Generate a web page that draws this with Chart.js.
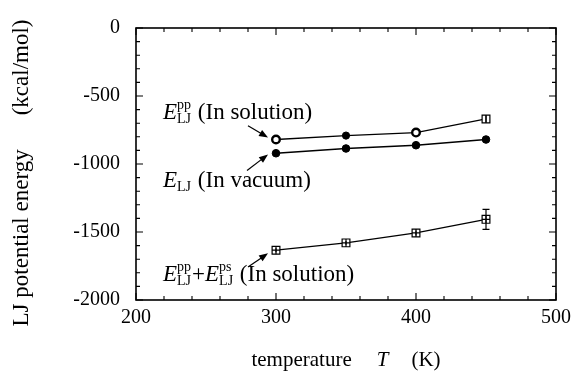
<!DOCTYPE html>
<html>
<head>
<meta charset="utf-8">
<script src="https://cdn.jsdelivr.net/npm/chart.js@4.4.1/dist/chart.umd.min.js"></script>
<style>
  html,body{margin:0;padding:0;background:#fff;}
  #wrap{width:577px;height:371px;}
</style>
</head>
<body>
<div id="wrap"><canvas id="c" width="577" height="371"></canvas></div>
<script>
// ---------- data ----------
const temperatures = [300, 350, 400, 450];
const solutionPP   = [-820, -791, -769, -669];
const solutionPPErr = [0, 0, 0, 25];
const vacuumLJ     = [-921, -886, -862, -820];
const solutionSum  = [-1634, -1580, -1507, -1407];
const solutionSumErr = [14, 14, 18, 73];
const xTicks = [200, 300, 400, 500];
const yTicks = [-2000, -1500, -1000, -500, 0];
const xTitle = ['temperature', 'T', '(K)'];
const yTitle = ['LJ potential energy', '(kcal/mol)'];
// annotation anchors in data units: label [x,y], arrow from [x,y] to [x,y]
const annLabels = [
  {parts:[{t:'E',it:true},{sup:'pp',sub:'LJ'},{t:' (In solution)'}], at:[219.3,-623], from:[280,-718], to:[294.3,-806]},
  {parts:[{t:'E',it:true},{sub:'LJ'},{t:' (In vacuum)'}], at:[219.3,-1121], from:[279.3,-1048], to:[294.3,-930]},
  {parts:[{t:'E',it:true},{sup:'pp',sub:'LJ'},{t:'+'},{t:'E',it:true},{sup:'ps',sub:'LJ'},{t:' (In solution)'}], at:[219.3,-1817], from:[280,-1758], to:[294.3,-1656]}
];

const FONT = "'Liberation Serif', 'Times New Roman', serif";
const pts = (ys) => temperatures.map((x, i) => ({x, y: ys[i]}));

function fontStr(size, it){ return (it?'italic ':'') + size + 'px ' + FONT; }
function measureRich(ctx, parts, size){
  let w = 0;
  for (const p of parts){
    if (p.gap){ w += p.gap; continue; }
    if (p.t !== undefined){ ctx.font = fontStr(size, p.it); w += ctx.measureText(p.t).width; continue; }
    ctx.font = fontStr(Math.round(size*0.6), false);
    w += Math.max(p.sup?ctx.measureText(p.sup).width:0, p.sub?ctx.measureText(p.sub).width:0) + 1;
  }
  return w;
}
function drawRich(ctx, parts, x, y, size){
  ctx.textBaseline = 'middle';
  ctx.textAlign = 'left';
  for (const p of parts){
    if (p.gap){ x += p.gap; continue; }
    if (p.t !== undefined){ ctx.font = fontStr(size, p.it); ctx.fillText(p.t, x, y); x += ctx.measureText(p.t).width; continue; }
    const s = Math.round(size*0.6);
    ctx.font = fontStr(s, false);
    let w = 0;
    if (p.sup){ ctx.fillText(p.sup, x, y - size*0.32); w = Math.max(w, ctx.measureText(p.sup).width); }
    if (p.sub){ ctx.fillText(p.sub, x, y + size*0.28); w = Math.max(w, ctx.measureText(p.sub).width); }
    x += w + 1;
  }
}

const framePlugin = {
  id: 'frame',
  afterDatasetsDraw(chart){
    const ctx = chart.ctx, a = chart.chartArea;
    const xs = chart.scales.x, ys = chart.scales.y;
    ctx.save();
    ctx.strokeStyle = '#000';
    ctx.fillStyle = '#000';
    // error bars
    ctx.lineWidth = 1.2;
    const drawErr = (vals, errs, half) => {
      vals.forEach((v, i) => {
        const px = xs.getPixelForValue(temperatures[i]);
        const top = ys.getPixelForValue(v + errs[i]);
        const bot = ys.getPixelForValue(v - errs[i]);
        if (errs[i] <= 0) return;
        ctx.beginPath();
        ctx.moveTo(px, top); ctx.lineTo(px, bot);
        if (bot - top > 2*half + 2){
          ctx.moveTo(px-3.5, top); ctx.lineTo(px+3.5, top);
          ctx.moveTo(px-3.5, bot); ctx.lineTo(px+3.5, bot);
        }
        ctx.stroke();
      });
    };
    drawErr(solutionPP, solutionPPErr, 4);
    drawErr(solutionSum, solutionSumErr, 4);
    // crosses in squares
    solutionSum.forEach((v, i) => {
      const px = xs.getPixelForValue(temperatures[i]);
      const py = ys.getPixelForValue(v);
      ctx.beginPath();
      ctx.moveTo(px-4, py); ctx.lineTo(px+4, py);
      ctx.moveTo(px, py-4); ctx.lineTo(px, py+4);
      ctx.stroke();
    });
    {
      const px = xs.getPixelForValue(temperatures[3]);
      const py = ys.getPixelForValue(solutionPP[3]);
      ctx.beginPath();
      ctx.moveTo(px, py-4); ctx.lineTo(px, py+4);
      ctx.stroke();
    }
    // frame
    ctx.lineWidth = 1.6;
    ctx.strokeRect(a.left, a.top, a.right - a.left, a.bottom - a.top);
    ctx.lineWidth = 1.1;
    ctx.beginPath();
    for (let v = xs.min; v <= xs.max + 1e-6; v += 20){
      const px = xs.getPixelForValue(v);
      const L = (Math.round(v) % 100 === 0) ? 7 : 4;
      ctx.moveTo(px, a.bottom); ctx.lineTo(px, a.bottom - L);
      ctx.moveTo(px, a.top); ctx.lineTo(px, a.top + L);
    }
    for (let v = ys.min; v <= ys.max + 1e-6; v += 100){
      const py = ys.getPixelForValue(v);
      const L = (Math.round(v) % 500 === 0) ? 7 : 4;
      ctx.moveTo(a.left, py); ctx.lineTo(a.left + L, py);
      ctx.moveTo(a.right, py); ctx.lineTo(a.right - L, py);
    }
    ctx.stroke();
    // annotations
    for (const an of annLabels){
      const lx = xs.getPixelForValue(an.at[0]);
      const ly = ys.getPixelForValue(an.at[1]);
      drawRich(ctx, an.parts, lx, ly, 23);
      const x1 = xs.getPixelForValue(an.from[0]), y1 = ys.getPixelForValue(an.from[1]);
      const x2 = xs.getPixelForValue(an.to[0]),   y2 = ys.getPixelForValue(an.to[1]);
      const ang = Math.atan2(y2 - y1, x2 - x1);
      ctx.lineWidth = 1.2;
      ctx.beginPath(); ctx.moveTo(x1, y1); ctx.lineTo(x2 - 6*Math.cos(ang), y2 - 6*Math.sin(ang)); ctx.stroke();
      ctx.beginPath();
      ctx.moveTo(x2, y2);
      ctx.lineTo(x2 - 9*Math.cos(ang) + 3.5*Math.sin(ang), y2 - 9*Math.sin(ang) - 3.5*Math.cos(ang));
      ctx.lineTo(x2 - 9*Math.cos(ang) - 3.5*Math.sin(ang), y2 - 9*Math.sin(ang) + 3.5*Math.cos(ang));
      ctx.closePath(); ctx.fill();
    }
    // axis titles
    const xParts = [{t:xTitle[0]},{gap:25},{t:xTitle[1],it:true},{gap:23},{t:xTitle[2]}];
    const cx = (a.left + a.right)/2;
    const wX = measureRich(ctx, xParts, 21);
    drawRich(ctx, xParts, cx - wX/2, 360, 21);
    const yParts = [{t:yTitle[0]},{gap:34},{t:yTitle[1]}];
    const cy = (a.top + a.bottom)/2 + 9;
    const wY = measureRich(ctx, yParts, 23);
    ctx.translate(22, cy);
    ctx.rotate(-Math.PI/2);
    drawRich(ctx, yParts, -wY/2, 0, 23);
    ctx.restore();
  }
};

new Chart(document.getElementById('c'), {
  type: 'line',
  data: {
    datasets: [
      { data: pts(solutionPP), borderColor:'#000', borderWidth:1.3,
        pointStyle:['circle','circle','circle','rect'],
        pointRadius:[3.8,3.6,3.8,5.5], pointBorderWidth:[2.4,1,2.4,1.2],
        pointBackgroundColor:['#fff','#000','#fff','#fff'], pointBorderColor:'#000' },
      { data: pts(vacuumLJ), borderColor:'#000', borderWidth:1.3,
        pointStyle:'circle', pointRadius:3.8, pointBorderWidth:1,
        pointBackgroundColor:'#000', pointBorderColor:'#000' },
      { data: pts(solutionSum), borderColor:'#000', borderWidth:1.3,
        pointStyle:'rect', pointRadius:5.5, pointBorderWidth:1.2,
        pointBackgroundColor:'#fff', pointBorderColor:'#000' }
    ]
  },
  options: {
    responsive:false, animation:false,
    layout:{ padding:{ left:0, right:20, top:27, bottom:0 } },
    plugins:{ legend:{display:false}, tooltip:{enabled:false} },
    scales:{
      x:{ type:'linear', min:200, max:500,
          afterBuildTicks:(s)=>{ s.ticks = xTicks.map(v=>({value:v})); },
          afterFit:(s)=>{ s.height = 71; },
          grid:{display:false, drawTicks:false}, border:{display:false},
          ticks:{ color:'#000', padding:6, font:{family:FONT, size:20}, maxRotation:0,
                  callback:(v)=>String(v) } },
      y:{ type:'linear', min:-2000, max:0,
          afterBuildTicks:(s)=>{ s.ticks = yTicks.map(v=>({value:v})); },
          afterFit:(s)=>{ s.width = 136; },
          grid:{display:false, drawTicks:false}, border:{display:false},
          ticks:{ color:'#000', padding:16, font:{family:FONT, size:20},
                  callback:(v)=>String(v) } }
    }
  },
  plugins:[framePlugin]
});
</script>
</body>
</html>
